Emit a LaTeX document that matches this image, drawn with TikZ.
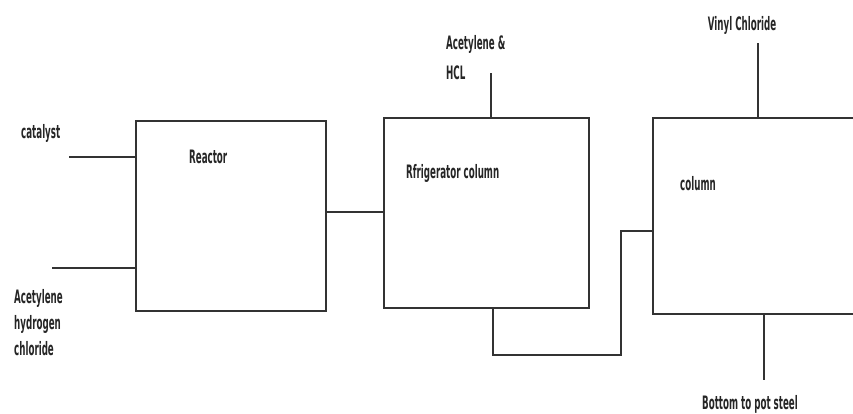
\documentclass[tikz,border=0pt]{standalone}
\usepackage{fontspec}
\newfontfamily\labfont{DejaVu Sans}[FakeStretch=0.47]
\begin{document}
\begin{tikzpicture}[x=1pt,y=-1pt,
  box/.style={draw=black!80, line width=1.6pt, inner sep=0pt, anchor=north west},
  wire/.style={draw=black!80, line width=1.6pt},
  lab/.style={font=\labfont\bfseries\fontsize{18.5}{26}\selectfont, text=black!85, inner sep=0pt, anchor=west, align=left}]
\useasboundingbox (0,0) rectangle (853,413);
\fill[white] (0,0) rectangle (853,413);
% boxes
\node[box, minimum width=190pt, minimum height=190pt] (reactor) at (135,120) {};
\node[box, minimum width=205pt, minimum height=190pt] (refrig) at (383,117) {};
\node[box, minimum width=215pt, minimum height=196pt] (column) at (652,117) {};
% labels
\node[lab] (tcat) at (21,133) {catalyst};
\node[lab, anchor=north west] (tace) at (14,289) {Acetylene\\hydrogen\\chloride};
\node[lab] (treact) at (189,157) {Reactor};
\node[lab, anchor=north west] (tacehcl) at (446,35) {Acetylene \&\\[4pt]HCL};
\node[lab] (trefr) at (406,173) {Rfrigerator column};
\node[lab] (tcol) at (680,184) {column};
\node[lab, anchor=center] (tvc) at (742,25) {Vinyl Chloride};
\node[lab, anchor=center] (tbot) at (750,404) {Bottom to pot steel};
% connector ends
\coordinate (cat) at (69,157);
\coordinate (ace) at (52,268);
\coordinate (top) at (491,73);
\coordinate (b1) at (493,355);
\coordinate (b2) at (621,355);
\coordinate (b3) at (621,231);
\coordinate (vc) at (758,43);
\coordinate (bt) at (764,380);
% connectors
\draw[wire] (cat) -- (cat -| reactor.west);
\draw[wire] (ace) -- (ace -| reactor.west);
\draw[wire] (reactor.east |- 0,212) -- (refrig.west |- 0,212);
\draw[wire] (top) -- (top |- refrig.north);
\draw[wire] (b1 |- refrig.south) -- (b1) -- (b2) -- (b3) -- (b3 -| column.west);
\draw[wire] (vc) -- (vc |- column.north);
\draw[wire] (bt |- column.south) -- (bt);
\end{tikzpicture}
\end{document}
